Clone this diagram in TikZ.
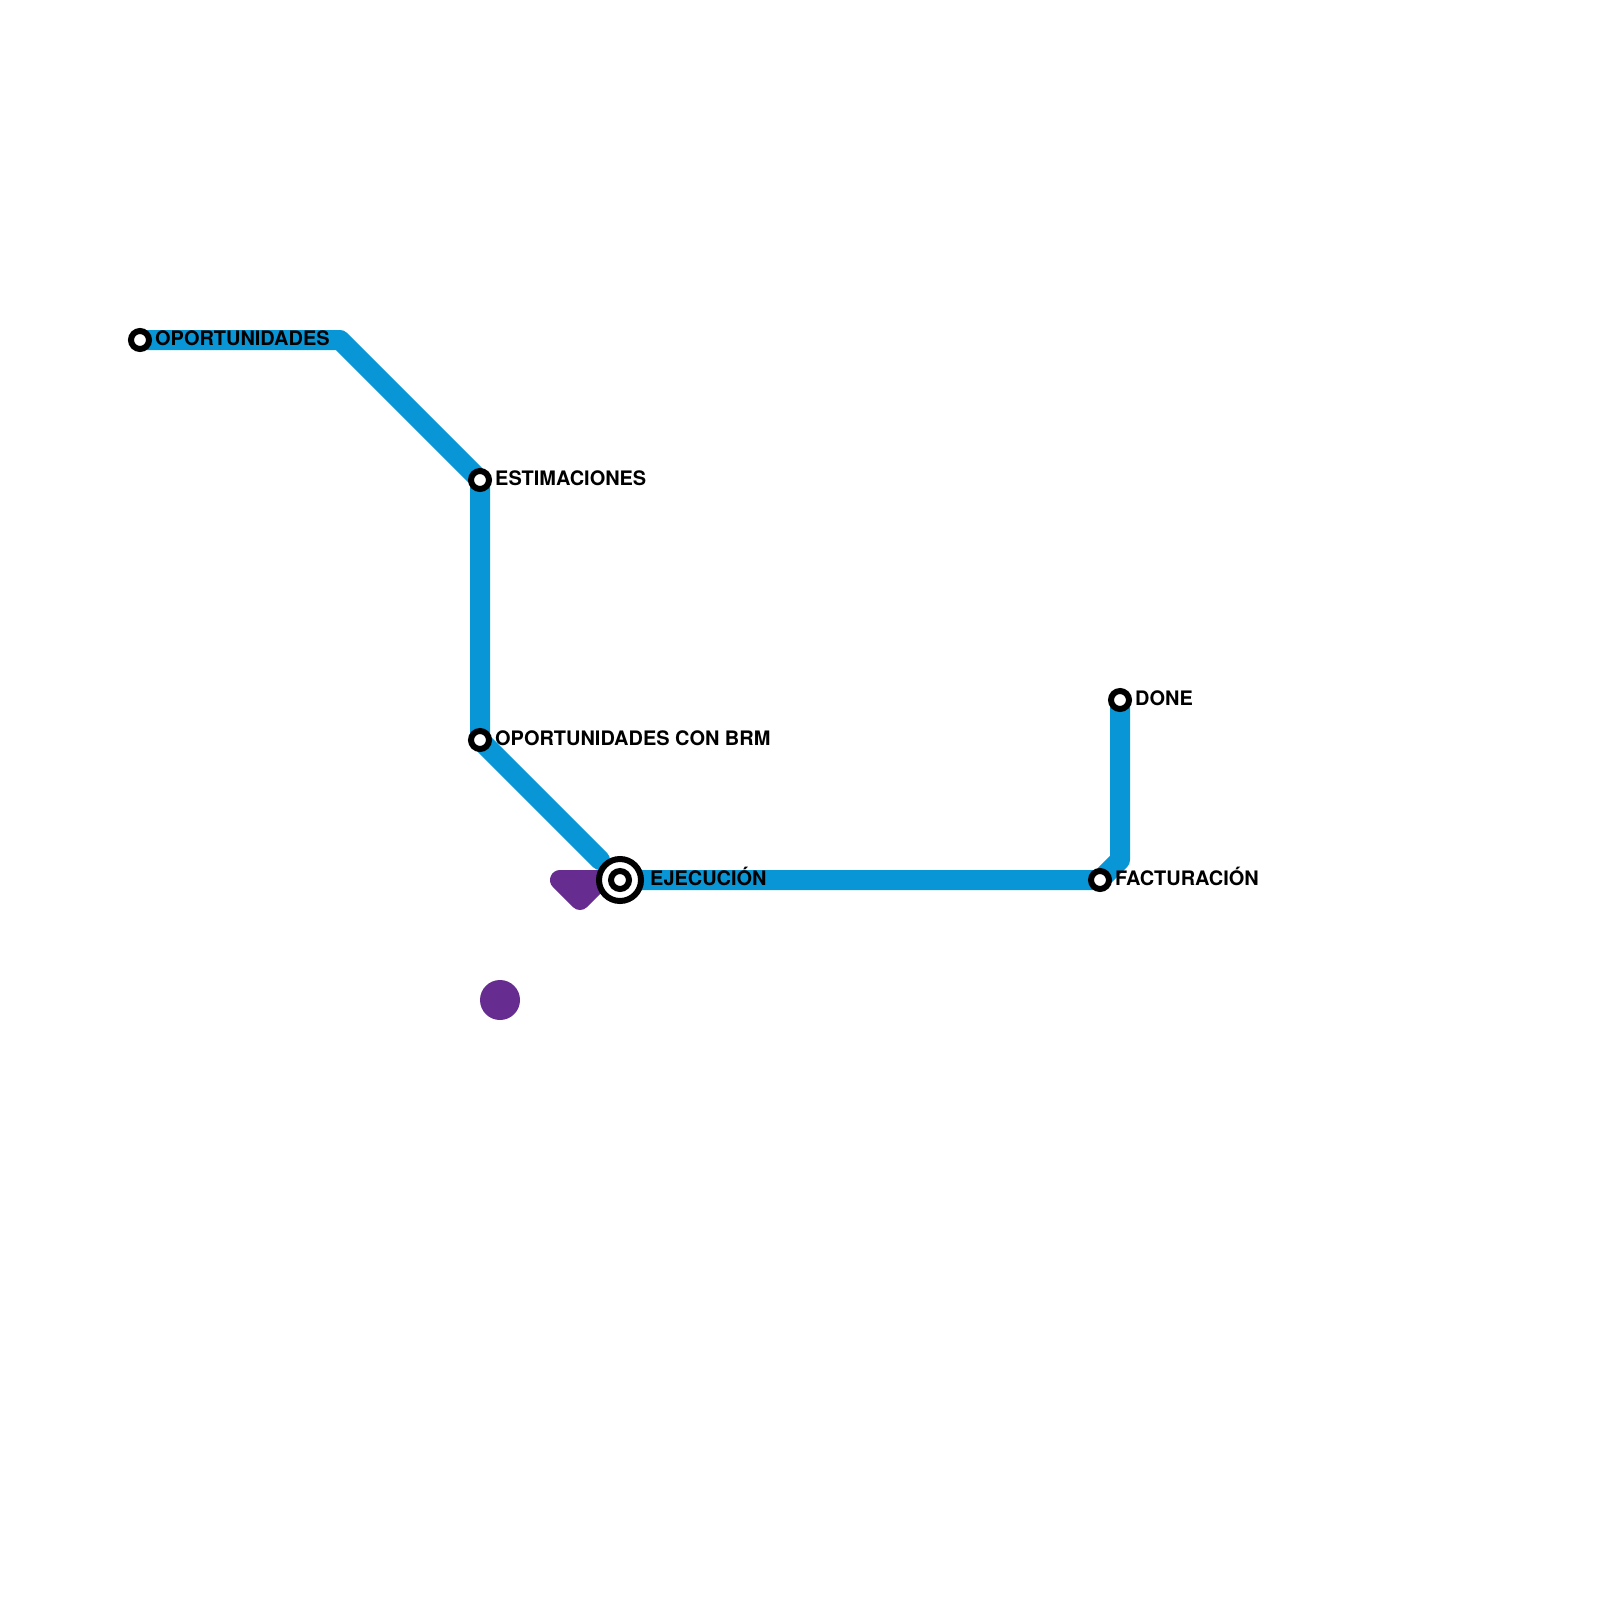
\documentclass[tikz,border=0pt]{standalone}
\usepackage{fontspec}
\setmainfont{TeX Gyre Heros}
\usetikzlibrary{backgrounds}
\definecolor{linea}{HTML}{0896D7}
\definecolor{morado}{HTML}{662C90}
\tikzstyle{tramo} = [draw=linea, line width=20pt, line join=round, line cap=round]
\tikzstyle{mancha} = [draw=morado, fill=morado, line width=20pt, line join=round]
\tikzstyle{punto} = [circle, fill=morado, minimum size=40pt, inner sep=0pt, outer sep=0pt]
\tikzstyle{parada} = [circle, draw=black, fill=white, line width=6pt, minimum size=18pt, inner sep=0pt, outer sep=0pt]
\tikzstyle{cruce} = [circle, draw=black, fill=white, line width=6pt, minimum size=42pt, inner sep=0pt, outer sep=0pt]
\tikzstyle{etiqueta} = [anchor=base west, inner sep=0pt, font=\fontsize{19.95}{20}\selectfont\bfseries, text=black]

\begin{document}
\begin{tikzpicture}[x=1pt, y=-1pt]
\path[use as bounding box] (0,0) rectangle (1600,1600);
%paradas
\node[parada] (oportunidades) at (140,340) {};
\node[parada] (estimaciones) at (480,480) {};
\node[parada] (brm) at (480,740) {};
\node[cruce] (ejecucion) at (620,880) {};
\node[parada] (centro) at (620,880) {};
\node[parada] (facturacion) at (1100,880) {};
\node[parada] (done) at (1120,700) {};
%puntos de giro
\coordinate (giroA) at (340,340);
\coordinate (finA) at (600,860);
\coordinate (giroB) at (1120,860);
\coordinate (moradoA) at (560,880);
\coordinate (moradoB) at (580,900);
\coordinate (moradoC) at (600,880);
%etiquetas
\node[etiqueta, xshift=15pt, yshift=-5.2pt] (tagoportunidades) at (oportunidades) {OPORTUNIDADES};
\node[etiqueta, xshift=15pt, yshift=-5.2pt] (tagestimaciones) at (estimaciones) {ESTIMACIONES};
\node[etiqueta, xshift=15pt, yshift=-5.2pt] (tagbrm) at (brm) {OPORTUNIDADES CON BRM};
\node[etiqueta, xshift=30pt, yshift=-5.2pt] (tagejecucion) at (ejecucion) {EJECUCIÓN};
\node[etiqueta, xshift=15pt, yshift=-5.2pt] (tagfacturacion) at (facturacion) {FACTURACIÓN};
\node[etiqueta, xshift=15pt, yshift=-5.2pt] (tagdone) at (done) {DONE};
%mancha morada
\node[punto] (circulo) at (500,1000) {};
%lineas
\begin{scope}[on background layer]
\path[mancha] (moradoA) -- (moradoB) -- (moradoC) -- cycle;
\path[tramo] (oportunidades.center) -- (giroA) -- (estimaciones.center) -- (brm.center) -- (finA);
\path[tramo] (ejecucion.center) -- (facturacion.center) -- (giroB) -- (done.center);
\end{scope}
\end{tikzpicture}
\end{document}
